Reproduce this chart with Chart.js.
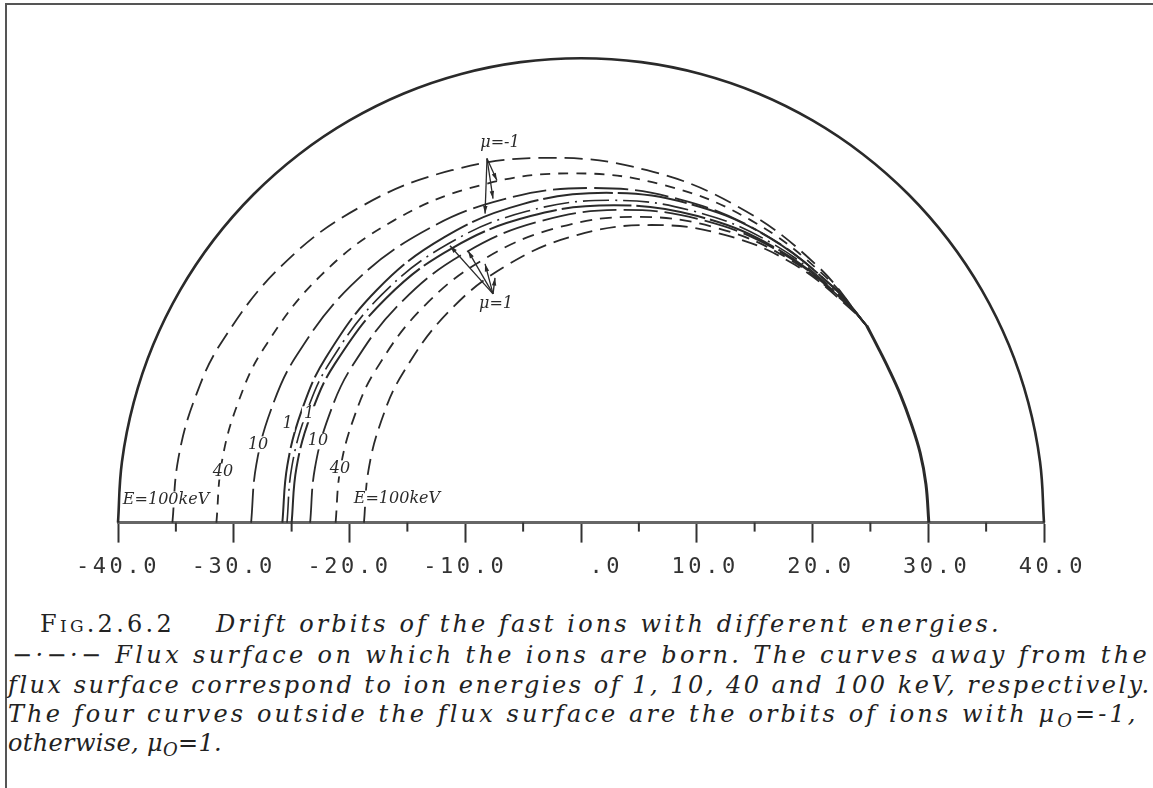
<!DOCTYPE html>
<html><head><meta charset="utf-8">
<script src="https://cdn.jsdelivr.net/npm/chart.js@4.4.1/dist/chart.umd.min.js"></script>
<style>
html,body{margin:0;padding:0;background:#fff;width:1153px;height:788px;overflow:hidden;position:relative}
#frame{position:absolute;left:5px;top:3px;width:1170px;height:800px;border-top:2px solid #555;border-left:2px solid #555}
#wrap{position:absolute;left:0;top:0;width:1153px;height:600px}
.cap{position:absolute;font-family:'DejaVu Serif',serif;font-style:italic;color:#222;white-space:nowrap;font-size:24px;line-height:24px}
.cap sub{font-size:0.75em;vertical-align:-0.25em;line-height:0}
.sc{font-style:normal;font-variant:small-caps}
</style></head><body>
<div id="frame"></div>
<div id="wrap"><canvas id="c"></canvas></div>
<div class="cap sc fit" data-w="135" style="left:40px;top:612px">Fig.2.6.2</div>
<div class="cap fit" data-w="785" style="left:216px;top:612px">Drift orbits of the fast ions with different energies.</div>
<div class="cap fit" data-w="1138" style="left:12px;top:643px">&#8722;&#183;&#8722;&#183;&#8722; Flux surface on which the ions are born. The curves away from the</div>
<div class="cap fit" data-w="1143" style="left:8px;top:673px">flux surface correspond to ion energies of 1, 10, 40 and 100 keV, respectively.</div>
<div class="cap fit" data-w="1130" style="left:8px;top:702px">The four curves outside the flux surface are the orbits of ions with &#956;<sub>O</sub>=-1,</div>
<div class="cap fit" data-w="214" style="left:8px;top:731px">otherwise, &#956;<sub>O</sub>=1.</div>
<script>
// ---- data ----
const majorTicks = [-40,-30,-20,-10,0,10,20,30,40];
const minorTicks = [-35,-25,-15,-5,5,15,25,35];

const wall = [[-40,0],[-39.66,5.22],[-38.64,10.35],[-36.96,15.31],[-34.64,20],[-31.73,24.35],[-28.28,28.28],[-24.35,31.73],[-20,34.64],[-15.31,36.96],[-10.35,38.64],[-5.22,39.66],[0,40],[5.22,39.66],[10.35,38.64],[15.31,36.96],[20,34.64],[24.35,31.73],[28.28,28.28],[31.73,24.35],[34.64,20],[36.96,15.31],[38.64,10.35],[39.66,5.22],[40,0]];

const orbit100Out = [[-35.3,0],[-34.8,5.45],[-33.34,10.75],[-30.94,15.71],[-25.76,22.22],[-19.02,27.21],[-11.16,30.35],[-2.73,31.42],[5.70,30.35],[13.56,27.21],[20.3,22.22],[24.7,16.93]];
const orbit40Out  = [[-31.5,0],[-31.03,5.22],[-29.64,10.29],[-27.38,15.04],[-22.49,21.27],[-16.12,26.05],[-8.69,29.05],[-0.73,30.08],[7.23,29.05],[14.66,26.05],[21.03,21.27],[24.7,16.93]];
const orbit10Out  = [[-28.5,0],[-28.05,5.0],[-26.73,9.86],[-24.56,14.41],[-19.89,20.38],[-13.8,24.96],[-6.71,27.84],[0.9,28.82],[8.51,27.84],[15.6,24.96],[21.69,20.38],[24.7,16.93]];
const orbit1Out   = [[-25.8,0],[-25.37,4.93],[-24.11,9.71],[-22.05,14.2],[-17.6,20.08],[-11.8,24.59],[-5.05,27.43],[2.2,28.4],[9.45,27.43],[16.2,24.59],[22.0,20.08],[24.7,16.93]];
const fluxSurface = [[-25.4,0],[-24.98,4.82],[-23.71,9.49],[-21.65,13.88],[-17.21,19.63],[-11.43,24.04],[-4.68,26.81],[2.55,27.76],[9.78,26.81],[16.53,24.04],[22.31,19.63],[24.7,16.93]];
const orbit1In    = [[-25.0,0],[-24.58,4.74],[-23.32,9.35],[-21.27,13.67],[-16.84,19.33],[-11.08,23.67],[-4.36,26.4],[2.85,27.33],[10.06,26.4],[16.78,23.67],[22.54,19.33],[24.7,16.93]];
const orbit10In   = [[-23.4,0],[-22.99,4.68],[-21.77,9.21],[-19.77,13.47],[-15.47,19.04],[-9.87,23.32],[-3.34,26.01],[3.66,26.93],[10.66,26.01],[17.19,23.32],[22.79,19.04],[24.7,16.93]];
const orbit40In   = [[-21.2,0],[-20.8,4.57],[-19.63,9.0],[-17.72,13.17],[-13.58,18.62],[-8.2,22.8],[-1.93,25.43],[4.8,26.33],[11.53,25.43],[17.8,22.8],[23.18,18.62],[24.7,16.93]];
const orbit100In  = [[-18.75,0],[-18.37,4.45],[-17.25,8.77],[-15.42,12.82],[-11.48,18.12],[-6.34,22.2],[-0.35,24.76],[6.07,25.63],[12.49,24.76],[18.48,22.2],[23.62,18.12],[24.7,16.93]];
const commonTail  = [[24.7,16.93],[25.6,15.2],[26.6,13.2],[27.6,11.0],[28.5,8.6],[29.3,6.0],[29.8,3.3],[30.05,0]];

const energyLabels = [
  {t:'E=100keV', x:-35.85, y:1.99},
  {t:'40', x:-30.93, y:4.4},
  {t:'10', x:-27.9, y:6.74},
  {t:'1', x:-25.35, y:8.5},
  {t:'1', x:-23.5, y:9.33},
  {t:'10', x:-22.72, y:7.0},
  {t:'40', x:-20.82, y:4.67},
  {t:'E=100keV', x:-15.9, y:2.07}
];
const muArrows = [
  {text:'\u03bc=-1', at:[-7.0,32.7], from:[-8.12,31.36], to:[[-8.29,26.61],[-7.6,27.9],[-7.26,29.46]]},
  {text:'\u03bc=1', at:[-7.34,18.8], from:[-7.6,19.7], to:[[-11.32,23.84],[-9.76,23.41],[-8.29,22.29],[-7.43,21.08]]}
];

function f51(v){ if (v===0) return '   .0'; const s=Number(v).toFixed(1); return s.length<5 ? ' '.repeat(5-s.length)+s : s; }

const INK = '#2a2a2a';
function ds(data, dash, width){
  return {data, showLine:true, pointRadius:0, borderColor:INK, borderWidth:width||1.8, borderDash:dash||[], tension:0.4, fill:false, clip:false, borderCapStyle:'butt'};
}

const axisDecor = {
  id:'axisDecor',
  beforeDraw(chart){ chart.ctx.letterSpacing='3.6px'; },
  beforeDatasetsDraw(chart){
    const ctx=chart.ctx, xs=chart.scales.x, b=chart.chartArea.bottom;
    ctx.letterSpacing='0px';
    ctx.save(); ctx.strokeStyle='#333'; ctx.lineWidth=2;
    minorTicks.forEach(v=>{ const px=xs.getPixelForValue(v); ctx.beginPath(); ctx.moveTo(px,b); ctx.lineTo(px,b+9); ctx.stroke(); });
    ctx.restore();
  },
  afterDatasetsDraw(chart){
    const ctx=chart.ctx, X=v=>chart.scales.x.getPixelForValue(v), Y=v=>chart.scales.y.getPixelForValue(v);
    ctx.save(); ctx.letterSpacing='0px';
    ctx.textAlign='center'; ctx.textBaseline='middle';
    ctx.font='italic 16px "DejaVu Serif"';
    energyLabels.forEach(l=>{
      const w=ctx.measureText(l.t).width, px=X(l.x), py=Y(l.y);
      ctx.fillStyle='#fff'; ctx.fillRect(px-w/2-2, py-8, w+4, 16);
      ctx.fillStyle=INK; ctx.fillText(l.t, px, py);
    });
    ctx.strokeStyle=INK; ctx.fillStyle=INK; ctx.lineWidth=1.3;
    muArrows.forEach(a=>{
      const ax=X(a.from[0]), ay=Y(a.from[1]);
      a.to.forEach(t=>{
        const tx=X(t[0]), ty=Y(t[1]);
        ctx.beginPath(); ctx.moveTo(ax,ay); ctx.lineTo(tx,ty); ctx.stroke();
        const ang=Math.atan2(ty-ay,tx-ax), L=8, W=0.28;
        ctx.beginPath(); ctx.moveTo(tx,ty);
        ctx.lineTo(tx-L*Math.cos(ang-W), ty-L*Math.sin(ang-W));
        ctx.lineTo(tx-L*Math.cos(ang+W), ty-L*Math.sin(ang+W));
        ctx.closePath(); ctx.fill();
      });
      ctx.font='italic 16px "DejaVu Serif"';
      ctx.fillText(a.text, X(a.at[0]), Y(a.at[1]));
    });
    ctx.restore();
  }
};

new Chart(document.getElementById('c'), {
  type:'scatter',
  data:{datasets:[
    ds(wall, [], 2.6),
    ds(orbit100Out, [18,8]),
    ds(orbit40Out, [10,8]),
    ds(orbit10Out, [34,7]),
    ds(orbit1Out, [70,5], 2),
    ds(fluxSurface, [26,6,2,6], 1.6),
    ds(orbit1In, [70,5], 2),
    ds(orbit10In, [34,7]),
    ds(orbit40In, [12,8]),
    ds(orbit100In, [16,8]),
    ds(commonTail, [], 3)
  ]},
  options:{
    responsive:true, maintainAspectRatio:false, animation:false,
    layout:{padding:{left:118,right:109,top:10,bottom:9}},
    plugins:{legend:{display:false}, tooltip:{enabled:false}},
    scales:{
      x:{type:'linear', min:-40, max:40,
         afterBuildTicks:(s)=>{ s.ticks = majorTicks.map(v=>({value:v})); },
         ticks:{callback:(v)=>f51(v), font:{family:'DejaVu Sans Mono', size:22}, color:'#333', padding:11, maxRotation:0, autoSkip:false},
         grid:{display:true, drawOnChartArea:false, drawTicks:true, tickLength:20, tickColor:'#333', tickWidth:2},
         border:{display:true, color:'#666', width:3}},
      y:{type:'linear', min:0, max:44.15, display:false}
    }
  },
  plugins:[axisDecor]
});

function fitCaption(){
  document.querySelectorAll('.fit').forEach(el=>{
    el.style.letterSpacing='0px';
    const w=el.getBoundingClientRect().width;
    const n=el.textContent.length;
    const target=+el.dataset.w;
    el.style.letterSpacing=((target-w)/n)+'px';
  });
}
if (document.fonts && document.fonts.ready) document.fonts.ready.then(fitCaption); else fitCaption();
fitCaption();
</script>
</body></html>
